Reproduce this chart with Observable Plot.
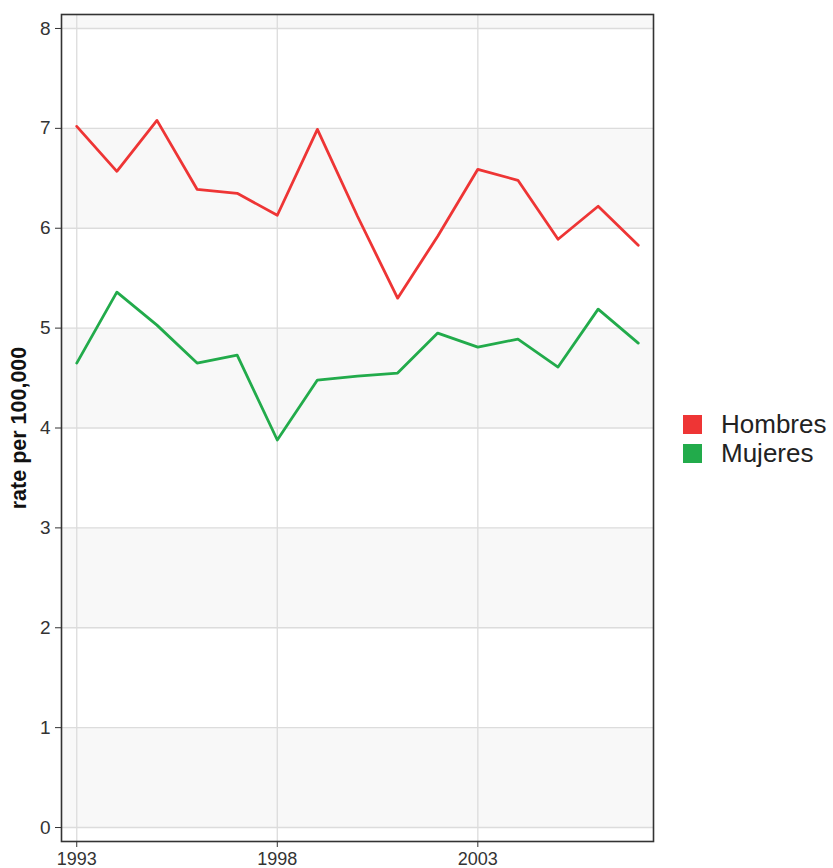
<!DOCTYPE html>
<html>
<head>
<meta charset="utf-8">
<script src="https://cdn.jsdelivr.net/npm/d3@7"></script>
<script src="https://cdn.jsdelivr.net/npm/@observablehq/plot@0.6"></script>
<style>
  body { margin: 0; background: white; font-family: "Liberation Sans", Arial, sans-serif; }
  #wrap { position: relative; width: 833px; height: 868px; overflow: hidden; }
  #legend { position: absolute; left: 683px; top: 410px; font-size: 26px; color: #222; line-height: 29px; }
  .item { display: flex; align-items: center; height: 29px; }
  .sw { width: 19px; height: 19px; margin-right: 19px; }
  g[aria-label="y-axis label"] text { font-weight: bold; font-size: 21.5px; fill: #111; }
</style>
</head>
<body>
<div id="wrap"><div id="legend"></div></div>
<script>
const years = [1993,1994,1995,1996,1997,1998,1999,2000,2001,2002,2003,2004,2005,2006,2007];
const hombres = [7.02,6.57,7.08,6.39,6.35,6.13,6.99,6.12,5.30,5.92,6.59,6.48,5.89,6.22,5.83];
const mujeres = [4.65,5.36,5.03,4.65,4.73,3.88,4.48,4.52,4.55,4.95,4.81,4.89,4.61,5.19,4.85];
const seriesNames = ["Hombres", "Mujeres"];
const seriesColors = ["#ee3535", "#22ab4b"];
const xTicks = [1993, 1998, 2003];
const yTicks = [0,1,2,3,4,5,6,7,8];
const bandStarts = [0, 2, 4, 6, 8];
const xDomain = [1992.62, 2007.38];
const yDomain = [-0.14, 8.14];
const yLabel = "rate per 100,000";

const table = [];
years.forEach((y, i) => {
  table.push({year: y, rate: hombres[i], sex: seriesNames[0]});
});
years.forEach((y, i) => {
  table.push({year: y, rate: mujeres[i], sex: seriesNames[1]});
});

const chart = Plot.plot({
  width: 833,
  height: 868,
  marginLeft: 61,
  marginRight: 180,
  marginTop: 14,
  marginBottom: 27,
  style: {fontFamily: "'Liberation Sans', Arial, sans-serif", fontSize: "18px", color: "#333", background: "white"},
  x: {domain: xDomain},
  y: {domain: yDomain},
  color: {domain: seriesNames, range: seriesColors},
  marks: [
    Plot.rect(bandStarts, {x1: () => xDomain[0], x2: () => xDomain[1], y1: d => d, y2: d => d + 1, fill: "#f8f8f8", clip: true}),
    Plot.gridY(yTicks, {stroke: "#dcdcdc", strokeOpacity: 1, strokeWidth: 1.3}),
    Plot.gridX(xTicks, {stroke: "#dcdcdc", strokeOpacity: 1, strokeWidth: 1.3}),
    Plot.line(table, {x: "year", y: "rate", z: "sex", stroke: "sex", strokeWidth: 2.8}),
    Plot.frame({stroke: "#333", strokeWidth: 1.6}),
    Plot.axisY(yTicks, {tickSize: 6, tickPadding: 5, fontSize: 19, tickFormat: d => String(d), label: yLabel, labelAnchor: "center", labelArrow: "none", labelOffset: 51, stroke: "#333"}),
    Plot.axisX(xTicks, {tickSize: 6, tickPadding: 5, fontSize: 18, tickFormat: d => String(d), label: null, stroke: "#333"})
  ]
});
document.getElementById("wrap").prepend(chart);

const legend = document.getElementById("legend");
seriesNames.forEach((n, i) => {
  const it = document.createElement("div");
  it.className = "item";
  it.innerHTML = `<span class="sw" style="background:${seriesColors[i]}"></span><span>${n}</span>`;
  legend.appendChild(it);
});
</script>
</body>
</html>
